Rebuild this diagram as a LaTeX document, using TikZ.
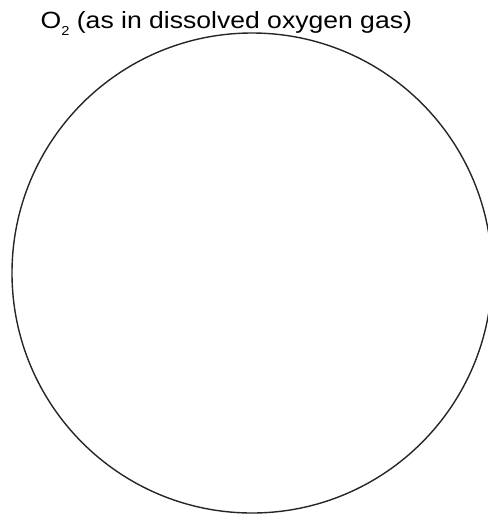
\documentclass[tikz,border=0pt]{standalone}
\usepackage{fontspec}
\setmainfont{Liberation Sans}
\newcommand{\subtwo}{\raisebox{-0.28em}{\fontsize{13}{13}\selectfont 2}}
\begin{document}
\begin{tikzpicture}[x=1pt,y=-1pt,
  ring/.style={draw=black!85,line width=1.4pt},
  lbl/.style={anchor=base west,inner sep=0pt,font=\fontsize{23.5}{26}\selectfont}]
\useasboundingbox (0,0) rectangle (488,515);
\begin{scope}
\clip (0,0) rectangle (488,515);
\node[ring,circle,minimum size=480pt,inner sep=0pt] (c) at (252,273) {};
\end{scope}
\node[lbl] (t) at (40.5,28.5) {\scalebox{1.13}[1]{O\subtwo\ (as in dissolved oxygen gas)}};
\end{tikzpicture}
\end{document}
